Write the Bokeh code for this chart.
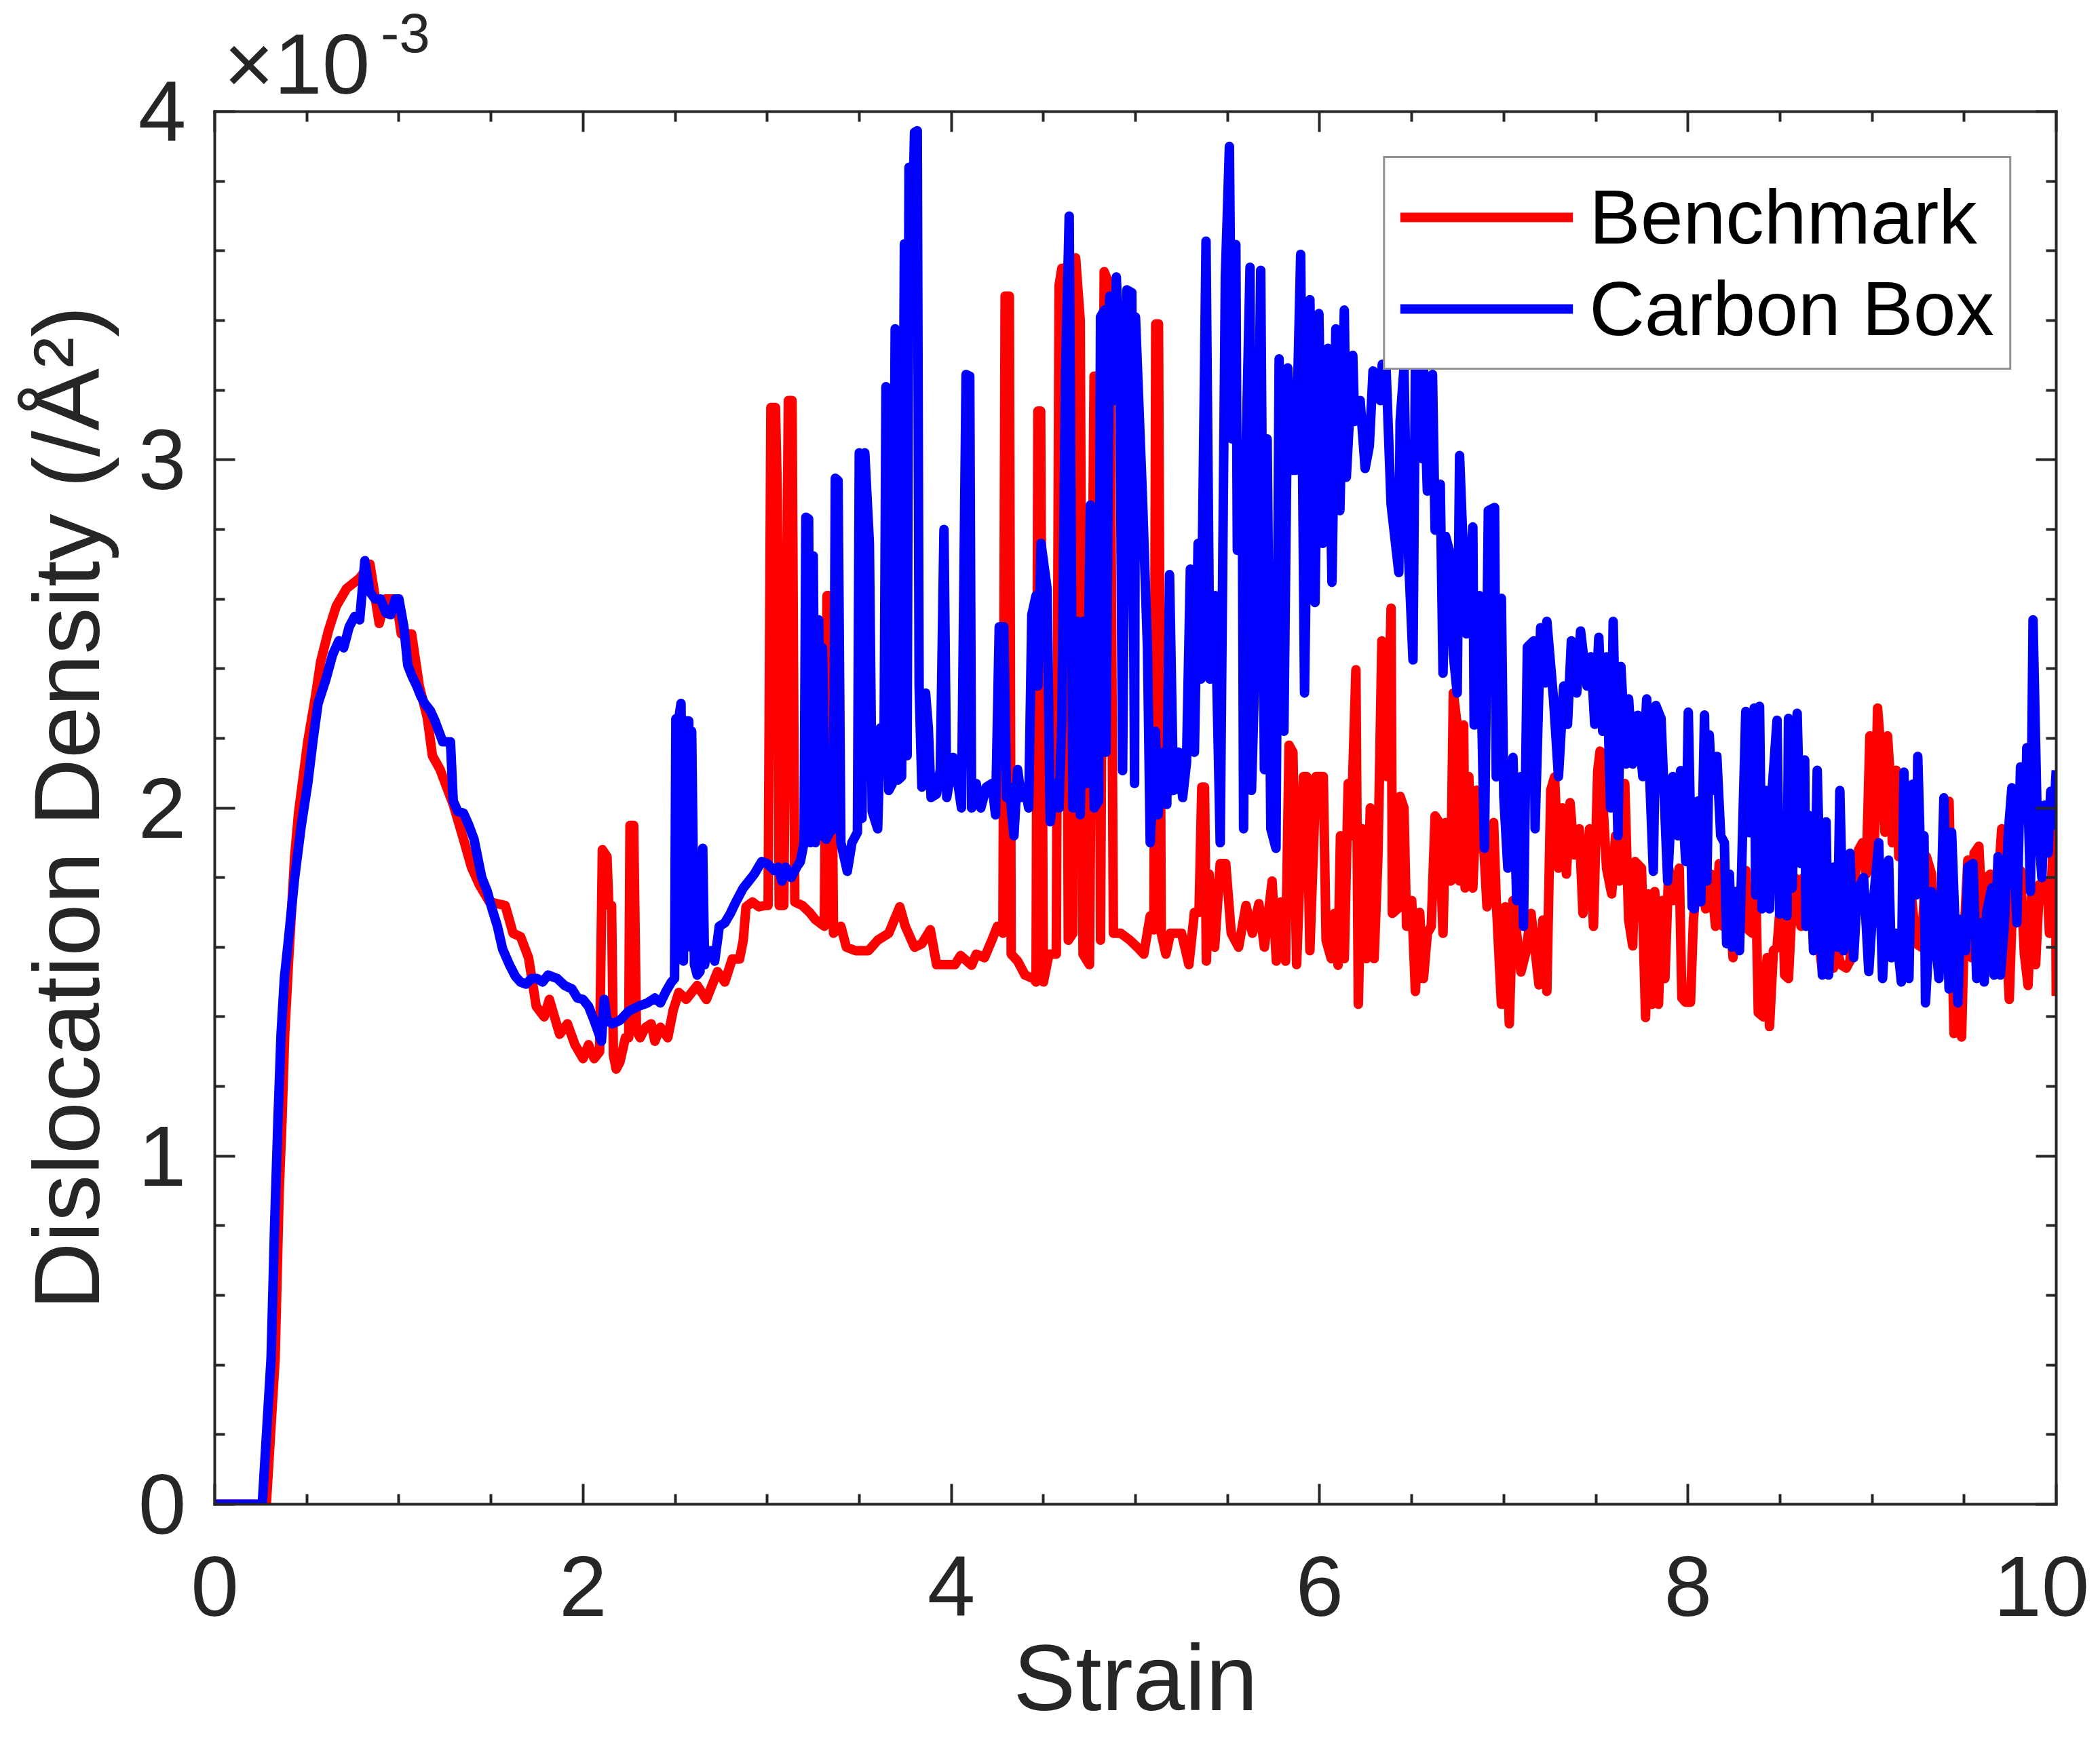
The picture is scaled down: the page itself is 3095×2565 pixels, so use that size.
from bokeh.plotting import figure
from bokeh.models import Range1d, LinearAxis, FixedTicker
from bokeh.embed import file_html
from bokeh.resources import INLINE

# ---------------- data (density in units of 1e-3 /Å^2) ----------------
bench_strain = [
    0, 0.28, 0.328, 0.35, 0.365, 0.38, 0.40, 0.434, 0.455, 0.505, 0.547, 0.575, 0.618, 0.66, 0.716, 0.787, 0.843, 0.893, 0.928, 0.985,
    1.013, 1.069, 1.111, 1.154, 1.182, 1.224, 1.252, 1.295, 1.351, 1.394, 1.436, 1.492, 1.577, 1.62, 1.661, 1.704, 1.746, 1.789, 1.817, 1.873, 1.915, 1.956, 2.0,
    2.03, 2.06, 2.09, 2.105, 2.13, 2.14, 2.155, 2.165, 2.18, 2.20, 2.23, 2.248, 2.255, 2.275, 2.29, 2.31, 2.34, 2.37, 2.39, 2.42, 2.46, 2.49, 2.52, 2.56, 2.62, 2.67, 2.73, 2.77, 2.81, 2.85, 2.87, 2.885, 2.92, 2.955, 2.99,
    3.005, 3.02, 3.045, 3.055, 3.065, 3.09, 3.115, 3.135, 3.15, 3.19, 3.23, 3.26, 3.31, 3.325, 3.345, 3.36, 3.40, 3.43, 3.48, 3.55, 3.60, 3.66, 3.72, 3.75, 3.80, 3.84, 3.886, 3.92, 3.96,
    4.02, 4.05, 4.11, 4.135, 4.18, 4.22, 4.25, 4.28, 4.292, 4.315, 4.325, 4.36, 4.40, 4.445, 4.46, 4.47, 4.485, 4.50, 4.53, 4.57, 4.585, 4.60, 4.62, 4.635, 4.66, 4.675, 4.70, 4.715, 4.75, 4.775, 4.80, 4.81, 4.83, 4.86, 4.88, 4.92, 4.97,
    5.01, 5.045, 5.08, 5.10, 5.11, 5.125, 5.14, 5.165, 5.19, 5.25, 5.29, 5.32, 5.345, 5.36, 5.375, 5.385, 5.40, 5.43, 5.46, 5.49, 5.52, 5.56, 5.60, 5.635, 5.67, 5.70, 5.742, 5.765, 5.79, 5.815, 5.834, 5.855, 5.875, 5.912, 5.93, 5.947, 5.98,
    6.02, 6.035, 6.063, 6.08, 6.10, 6.113, 6.134, 6.155, 6.17, 6.197, 6.21, 6.232, 6.254, 6.275, 6.296, 6.317, 6.338, 6.366, 6.388, 6.395, 6.423, 6.437, 6.458, 6.472, 6.50, 6.52, 6.543, 6.564, 6.585, 6.606, 6.627, 6.648, 6.67, 6.684, 6.712, 6.726, 6.747, 6.76, 6.782, 6.79, 6.81, 6.832, 6.853, 6.874, 6.888, 6.909, 6.945, 6.959, 6.987,
    7.008, 7.03, 7.05, 7.093, 7.12, 7.148, 7.191, 7.212, 7.234, 7.255, 7.276, 7.297, 7.318, 7.34, 7.36, 7.382, 7.41, 7.43, 7.466, 7.487, 7.51, 7.523, 7.558, 7.586, 7.607, 7.628, 7.657, 7.678, 7.70, 7.713, 7.748, 7.77, 7.784, 7.805, 7.82, 7.84, 7.86, 7.875, 7.896, 7.918, 7.953, 7.967, 7.987,
    8.014, 8.03, 8.05, 8.075, 8.096, 8.123, 8.15, 8.17, 8.19, 8.218, 8.245, 8.273, 8.314, 8.328, 8.35, 8.368, 8.382, 8.41, 8.43, 8.443, 8.464, 8.484, 8.512, 8.525, 8.546, 8.56, 8.58, 8.593, 8.614, 8.627, 8.648, 8.675, 8.709, 8.73, 8.757, 8.777, 8.79, 8.81, 8.83, 8.86, 8.88, 8.90, 8.927, 8.948, 8.968, 8.988, 9.009, 9.03, 9.05, 9.07, 9.084, 9.098, 9.11, 9.131, 9.145, 9.172, 9.193, 9.213, 9.24, 9.268, 9.295, 9.323, 9.336, 9.363, 9.39, 9.418, 9.445, 9.466, 9.486, 9.50, 9.52, 9.54, 9.554, 9.58, 9.60, 9.622, 9.643, 9.663, 9.684, 9.704, 9.725, 9.745, 9.765, 9.786, 9.806, 9.827, 9.847, 9.868, 9.888, 9.909, 9.93, 9.95, 9.963, 9.984, 9.995, 10.0,
]
bench_density = [
    0, 0, 0.42, 0.9, 1.1, 1.35, 1.55, 1.86, 1.985, 2.19, 2.32, 2.42, 2.51, 2.58, 2.63, 2.66, 2.70, 2.53, 2.60, 2.60,
    2.50, 2.50, 2.35, 2.26, 2.15, 2.11, 2.07, 2.01, 1.91, 1.83, 1.78, 1.73, 1.72, 1.64, 1.63, 1.57, 1.43, 1.40, 1.45, 1.35, 1.38, 1.32, 1.28,
    1.32, 1.28, 1.30, 1.88, 1.86, 1.72, 1.72, 1.29, 1.25, 1.27, 1.34, 1.34, 1.95, 1.95, 1.36, 1.34, 1.37, 1.38, 1.33, 1.37, 1.34, 1.42, 1.47, 1.45, 1.49, 1.45, 1.53, 1.50, 1.566, 1.566, 1.62, 1.716, 1.73, 1.716, 1.72,
    1.72, 3.15, 3.15, 2.90, 1.72, 1.72, 3.17, 3.17, 1.73, 1.72, 1.70, 1.68, 1.66, 2.61, 2.61, 1.64, 1.66, 1.60, 1.59, 1.59, 1.62, 1.64, 1.716, 1.66, 1.60, 1.61, 1.65, 1.55, 1.55,
    1.55, 1.576, 1.548, 1.58, 1.57, 1.62, 1.66, 1.64, 3.47, 3.47, 1.58, 1.56, 1.52, 1.51, 1.50, 3.14, 3.14, 1.50, 1.58, 1.58, 3.50, 3.55, 3.55, 1.62, 1.64, 3.58, 3.40, 1.58, 1.55, 3.24, 3.24, 1.62, 3.54, 3.50, 1.64, 1.64, 1.62,
    1.60, 1.58, 1.69, 1.65, 3.39, 3.39, 1.64, 1.58, 1.64, 1.64, 1.55, 1.70, 1.70, 2.06, 2.06, 1.56, 1.81, 1.60, 1.84, 1.84, 1.64, 1.60, 1.72, 1.64, 1.725, 1.60, 1.79, 1.56, 1.73, 1.56, 2.18, 2.16, 1.55, 2.09, 2.09, 1.59, 2.09,
    2.09, 1.62, 1.567, 1.697, 1.548, 1.92, 1.567, 2.07, 1.92, 2.397, 1.436, 1.94, 1.567, 2.0, 1.567, 1.865, 2.48, 2.09, 2.574, 1.697, 1.71, 2.033, 2.0, 1.66, 1.734, 1.473, 1.70, 1.51, 1.64, 1.66, 1.977, 1.96, 1.64, 1.958, 1.79, 2.33, 2.238, 1.79, 2.238, 1.77, 2.09, 1.77, 2.051, 1.884, 1.92, 1.716, 1.958, 1.734, 1.436,
    1.716, 1.38, 1.734, 1.529, 1.585, 1.697, 1.492, 1.678, 1.473, 2.051, 2.089, 1.827, 2.0, 1.81, 2.015, 1.865, 1.94, 1.697, 1.94, 1.66, 2.107, 2.163, 1.827, 1.753, 1.92, 1.79, 2.07, 1.678, 1.604, 1.846, 1.827, 1.398, 1.753, 1.436, 1.76, 1.436, 1.734, 1.51, 1.827, 1.734, 1.827, 1.454, 1.442,
    1.442, 1.68, 1.80, 1.81, 1.71, 1.81, 1.66, 1.84, 1.66, 1.80, 1.57, 1.73, 1.82, 1.65, 1.64, 1.78, 1.412, 1.40, 1.57, 1.372, 1.59, 1.60, 1.79, 1.52, 1.51, 1.66, 1.80, 1.72, 1.66, 1.80, 1.73, 1.84, 1.63, 1.53, 1.57, 1.61, 1.54, 1.59, 1.55, 1.54, 1.56, 1.77, 1.88, 1.90, 1.81, 2.207, 1.82, 2.287, 2.148, 1.93, 2.207, 2.09, 1.90, 2.108, 1.86, 1.97, 1.66, 1.75, 1.61, 1.60, 1.86, 1.81, 1.58, 1.76, 1.67, 2.019, 1.352, 1.46, 1.342, 1.64, 1.85, 1.57, 1.87, 1.89, 1.67, 1.80, 1.81, 1.52, 1.78, 1.94, 1.67, 1.45, 1.77, 1.67, 1.82, 1.58, 1.49, 1.77, 1.55, 1.78, 1.75, 1.79, 1.64, 1.91, 2.008, 1.46,
]

cbox_strain = [
    0, 0.258, 0.306, 0.325, 0.343, 0.36, 0.378, 0.40, 0.434, 0.47, 0.505, 0.535, 0.561, 0.604, 0.64, 0.674, 0.70, 0.73, 0.76, 0.787, 0.815, 0.843, 0.87, 0.90, 0.93, 0.956, 0.98,
    1.0, 1.027, 1.048, 1.07, 1.097, 1.12, 1.14, 1.17, 1.196, 1.238, 1.28, 1.295, 1.32, 1.351, 1.38, 1.408, 1.45, 1.48, 1.506, 1.535, 1.563, 1.60, 1.633, 1.66, 1.69, 1.72, 1.75, 1.78, 1.81, 1.86, 1.90, 1.94, 1.97,
    2.0, 2.03, 2.06, 2.08, 2.10, 2.115, 2.13, 2.16, 2.20, 2.25, 2.30, 2.35, 2.39, 2.42, 2.45, 2.48, 2.497, 2.504, 2.52, 2.532, 2.545, 2.56, 2.574, 2.585, 2.59, 2.605, 2.62, 2.635, 2.65, 2.66, 2.673, 2.70, 2.715, 2.74, 2.77, 2.80, 2.83, 2.87, 2.90, 2.93, 2.97,
    3.0, 3.04, 3.06, 3.08, 3.10, 3.13, 3.16, 3.18, 3.20, 3.21, 3.225, 3.235, 3.25, 3.262, 3.28, 3.29, 3.30, 3.32, 3.34, 3.36, 3.37, 3.385, 3.40, 3.435, 3.46, 3.49, 3.50, 3.515, 3.53, 3.555, 3.57, 3.60, 3.615, 3.635, 3.645, 3.66, 3.68, 3.695, 3.71, 3.73, 3.745, 3.76, 3.77, 3.785, 3.80, 3.815, 3.825, 3.84, 3.86, 3.875, 3.89, 3.92, 3.94, 3.96, 3.975,
    4.01, 4.03, 4.055, 4.08, 4.10, 4.11, 4.135, 4.16, 4.19, 4.22, 4.24, 4.26, 4.285, 4.30, 4.315, 4.34, 4.36, 4.38, 4.40, 4.42, 4.437, 4.46, 4.47, 4.487, 4.52, 4.537, 4.56, 4.585, 4.60, 4.62, 4.64, 4.66, 4.685, 4.70, 4.715, 4.734, 4.755, 4.776, 4.80, 4.81, 4.832, 4.84, 4.86, 4.882, 4.896, 4.915, 4.93, 4.953, 4.98, 4.995,
    5.0, 5.038, 5.065, 5.08, 5.108, 5.122, 5.15, 5.17, 5.185, 5.206, 5.235, 5.256, 5.277, 5.298, 5.32, 5.34, 5.355, 5.383, 5.404, 5.432, 5.46, 5.488, 5.51, 5.524, 5.545, 5.553, 5.58, 5.587, 5.601, 5.622, 5.63, 5.658, 5.68, 5.70, 5.715, 5.735, 5.763, 5.78, 5.806, 5.827, 5.848, 5.87, 5.897, 5.918, 5.947, 5.975, 5.996, 6.017,
    6.045, 6.067, 6.088, 6.11, 6.134, 6.145, 6.18, 6.19, 6.22, 6.247, 6.27, 6.29, 6.33, 6.34, 6.36, 6.388, 6.43, 6.437, 6.458, 6.472, 6.507, 6.52, 6.557, 6.564, 6.585, 6.613, 6.627, 6.655, 6.67, 6.684, 6.712, 6.726, 6.747, 6.76, 6.797, 6.832, 6.839, 6.867, 6.895, 6.916, 6.95, 6.959, 6.987,
    7.0, 7.022, 7.05, 7.07, 7.093, 7.107, 7.128, 7.163, 7.17, 7.20, 7.226, 7.234, 7.27, 7.297, 7.325, 7.346, 7.367, 7.396, 7.417, 7.452, 7.473, 7.494, 7.516, 7.537, 7.558, 7.58, 7.594, 7.62, 7.636, 7.664, 7.678, 7.70, 7.727, 7.755, 7.776, 7.812, 7.826, 7.854, 7.89, 7.918, 7.946, 7.96, 7.988,
    8.002, 8.023, 8.034, 8.055, 8.07, 8.09, 8.103, 8.116, 8.13, 8.157, 8.178, 8.198, 8.21, 8.225, 8.24, 8.26, 8.28, 8.314, 8.334, 8.36, 8.368, 8.389, 8.402, 8.423, 8.443, 8.457, 8.484, 8.498, 8.512, 8.538, 8.546, 8.566, 8.593, 8.614, 8.634, 8.641, 8.655, 8.682, 8.702, 8.73, 8.75, 8.764, 8.79, 8.811, 8.825, 8.845, 8.88, 8.90, 8.92, 8.954, 8.982, 9.002, 9.036, 9.057, 9.09, 9.104, 9.132, 9.159, 9.173, 9.20, 9.22, 9.24, 9.248, 9.268, 9.282, 9.29, 9.323, 9.363, 9.39, 9.418, 9.432, 9.466, 9.48, 9.507, 9.52, 9.548, 9.568, 9.588, 9.609, 9.622, 9.65, 9.663, 9.684, 9.697, 9.718, 9.74, 9.759, 9.786, 9.806, 9.834, 9.84, 9.86, 9.874, 9.895, 9.922, 9.936, 9.956, 9.97, 9.984, 10.0,
]
cbox_density = [
    0, 0, 0.42, 0.8, 1.1, 1.35, 1.51, 1.62, 1.80, 1.95, 2.07, 2.20, 2.30, 2.37, 2.44, 2.48, 2.46, 2.52, 2.55, 2.54, 2.71, 2.62, 2.60, 2.60, 2.56, 2.555, 2.60,
    2.60, 2.52, 2.41, 2.38, 2.35, 2.32, 2.30, 2.28, 2.25, 2.19, 2.19, 2.02, 1.99, 1.985, 1.95, 1.91, 1.80, 1.76, 1.71, 1.66, 1.595, 1.55, 1.516, 1.50, 1.494, 1.51, 1.51, 1.50, 1.52, 1.51, 1.49, 1.48, 1.454,
    1.45, 1.43, 1.39, 1.36, 1.33, 1.45, 1.39, 1.38, 1.39, 1.417, 1.43, 1.44, 1.454, 1.44, 1.473, 1.50, 1.51, 2.256, 2.256, 2.30, 1.56, 2.25, 2.25, 1.60, 2.22, 1.55, 1.52, 1.53, 1.884, 1.55, 1.59, 1.59, 1.56, 1.66, 1.67, 1.697, 1.73, 1.77, 1.79, 1.81, 1.846,
    1.84, 1.82, 1.83, 1.79, 1.83, 1.80, 1.83, 1.846, 1.90, 2.835, 2.83, 1.90, 2.724, 1.90, 2.54, 1.92, 2.46, 1.91, 1.93, 1.94, 2.947, 2.94, 1.90, 1.818, 1.90, 1.93, 3.02, 1.97, 3.02, 2.76, 1.99, 1.94, 2.23, 2.23, 3.21, 2.05, 2.07, 3.376, 2.08, 2.09, 3.62, 2.15, 3.84, 3.58, 3.94, 3.945, 2.35, 2.06, 2.33, 2.23, 2.03, 2.04, 2.11, 2.80, 2.03,
    2.145, 2.09, 2.0, 3.245, 3.24, 2.0, 2.07, 2.0, 2.06, 2.07, 1.98, 2.52, 2.52, 2.03, 2.06, 1.92, 2.11, 2.03, 2.06, 2.0, 2.555, 2.61, 2.35, 2.76, 2.63, 1.96, 2.07, 2.0, 2.256, 3.245, 3.70, 2.0, 2.536, 1.98, 2.536, 2.07, 2.87, 2.0, 2.02, 3.41, 3.43, 2.16, 3.47, 3.17, 3.525, 3.25, 2.107, 3.488, 3.48, 2.07,
    3.41, 2.89, 2.46, 1.90, 2.22, 1.98, 2.16, 2.01, 2.67, 2.05, 2.16, 2.03, 2.13, 2.686, 2.16, 2.76, 2.37, 3.628, 2.37, 2.61, 1.90, 3.525, 3.90, 3.06, 3.618, 2.74, 2.947, 1.94, 3.04, 3.553, 2.05, 2.574, 3.544, 2.11, 3.06, 1.94, 1.884, 3.29, 2.22, 3.264, 2.97, 2.97, 3.59, 2.33, 3.46, 2.59, 3.42, 2.76,
    3.32, 2.648, 3.376, 2.854, 3.43, 2.95, 3.30, 3.11, 3.17, 2.975, 3.04, 3.255, 3.17, 3.274, 3.274, 2.872, 2.676, 3.11, 3.264, 2.854, 2.425, 3.264, 3.003, 3.264, 2.91, 3.245, 2.798, 2.93, 2.387, 2.78, 2.723, 2.44, 2.33, 3.012, 2.50, 2.807, 2.238, 2.61, 1.884, 2.854, 2.863, 2.089, 2.602,
    2.033, 1.827, 2.145, 1.734, 2.09, 1.66, 2.462, 2.48, 1.94, 2.518, 2.359, 2.536, 2.313, 2.09, 2.35, 2.24, 2.48, 2.33, 2.508, 2.35, 2.434, 2.24, 2.49, 2.22, 2.434, 2.0, 2.536, 1.92, 2.406, 2.126, 2.313, 2.126, 2.266, 2.09, 2.313, 1.818, 2.294, 2.257, 1.79, 2.09, 1.92, 2.107, 1.846,
    2.275, 1.716, 1.71, 2.02, 1.73, 2.267, 1.79, 2.21, 2.05, 2.148, 1.92, 1.90, 1.61, 1.81, 1.60, 1.76, 1.59, 2.277, 1.929, 2.287, 1.75, 2.292, 1.71, 2.05, 1.71, 2.05, 2.252, 1.695, 1.87, 1.69, 2.257, 1.77, 2.272, 1.84, 2.138, 1.66, 1.979, 1.59, 2.108, 1.52, 1.96, 1.52, 1.83, 1.60, 2.05, 1.59, 1.87, 1.57, 1.76, 1.80, 1.53, 1.70, 1.90, 1.51, 1.85, 1.57, 1.64, 1.50, 2.103, 1.51, 2.068, 1.75, 2.148, 1.77, 1.92, 1.44, 1.76, 1.51, 2.029, 1.48, 1.93, 1.44, 1.68, 1.59, 1.83, 1.84, 1.51, 1.67, 1.50, 1.70, 1.77, 1.52, 1.86, 1.52, 1.66, 1.93, 2.058, 1.67, 2.118, 1.97, 2.173, 1.76, 2.54, 2.008, 1.80, 2.008, 1.87, 2.048, 1.95, 2.108,
]

series_names = ["Benchmark", "Carbon Box"]
x_major_ticks = [0, 2, 4, 6, 8, 10]
x_minor_ticks = [0.5, 1, 1.5, 2.5, 3, 3.5, 4.5, 5, 5.5, 6.5, 7, 7.5, 8.5, 9, 9.5]
y_major_ticks = [0, 1, 2, 3, 4]
y_minor_ticks = [0.2, 0.4, 0.6, 0.8, 1.2, 1.4, 1.6, 1.8, 2.2, 2.4, 2.6, 2.8, 3.2, 3.4, 3.6, 3.8]
exponent_base = "×10"
exponent_power = "-3"

# ---------------- styling ----------------
FONT = "Liberation Sans"
AX = "#262626"
BASE_X = 0.446    # horizontal centre of the "×10" text (strain units)
POWER_X = 1.035   # horizontal centre of the "-3" text (strain units)

p = figure(width=3079, height=2560,
           x_range=Range1d(0, 10), y_range=Range1d(0, 4),
           output_backend="svg", toolbar_location=None,
           min_border_left=316, min_border_right=49,
           min_border_top=164, min_border_bottom=343,
           x_axis_label="Strain", y_axis_label="Dislocation Density (/Å²)")
p.grid.visible = False
p.outline_line_color = None
p.background_fill_color = "white"
p.border_fill_color = "white"

top_ticks = LinearAxis()
p.add_layout(top_ticks, "above")
p.add_layout(LinearAxis(), "right")


def style_axis(ax, ticks, minor, show):
    ax.ticker = FixedTicker(ticks=ticks, minor_ticks=minor)
    ax.axis_line_color = AX
    ax.axis_line_width = 4
    ax.axis_line_cap = "square"
    ax.major_tick_line_color = AX
    ax.major_tick_line_width = 4
    ax.major_tick_in = 30
    ax.major_tick_out = 0
    ax.minor_tick_line_color = AX
    ax.minor_tick_line_width = 4
    ax.minor_tick_in = 15
    ax.minor_tick_out = 0
    if show:
        ax.major_label_text_font = FONT
        ax.major_label_text_font_size = "127px"
        ax.major_label_text_color = AX
        ax.axis_label_text_font = FONT
        ax.axis_label_text_font_size = "138px"
        ax.axis_label_text_font_style = "normal"
        ax.axis_label_text_color = AX
    else:
        ax.major_label_text_color = None
        ax.major_label_text_font_size = "1px"
        ax.major_label_standoff = 0


for ax in p.below:
    style_axis(ax, x_major_ticks, x_minor_ticks, True)
    ax.major_label_standoff = 77
    ax.axis_label_standoff = 11
style_axis(top_ticks, x_major_ticks, x_minor_ticks, False)
for ax in p.left:
    style_axis(ax, y_major_ticks, y_minor_ticks, True)
    ax.major_label_standoff = 42
    ax.axis_label_standoff = 26
for ax in p.right:
    style_axis(ax, y_major_ticks, y_minor_ticks, False)


def text_axis(xpos, text, size, standoff):
    ax = LinearAxis(ticker=FixedTicker(ticks=[xpos]),
                    major_label_overrides={xpos: text})
    ax.axis_line_color = None
    ax.major_tick_line_color = None
    ax.minor_tick_line_color = None
    ax.major_tick_in = 0
    ax.major_tick_out = 0
    ax.minor_tick_in = 0
    ax.minor_tick_out = 0
    ax.major_label_text_font = FONT
    ax.major_label_text_font_size = size
    ax.major_label_text_color = AX
    ax.major_label_standoff = standoff
    return ax


# exponent marker "×10^-3" above the top-left corner of the axes
p.add_layout(text_axis(BASE_X, exponent_base, "127px", 0), "above")
p.add_layout(text_axis(POWER_X, exponent_power, "82px", -57), "above")

p.line(bench_strain, bench_density, line_color="#FF0000", line_width=14,
       line_join="round", legend_label=series_names[0])
p.line(cbox_strain, cbox_density, line_color="#0000FF", line_width=14,
       line_join="round", legend_label=series_names[1])

leg = p.legend[0]
leg.location = "top_right"
leg.margin = 66
leg.padding = 22
leg.spacing = 5
leg.glyph_width = 255
leg.glyph_height = 120
leg.label_height = 120
leg.label_standoff = 24
leg.label_text_font = FONT
leg.label_text_font_size = "113px"
leg.label_text_color = "#000000"
leg.border_line_color = AX
leg.border_line_width = 3
leg.background_fill_color = "white"
leg.background_fill_alpha = 1.0

open("out.html", "w").write(file_html(p, INLINE))
